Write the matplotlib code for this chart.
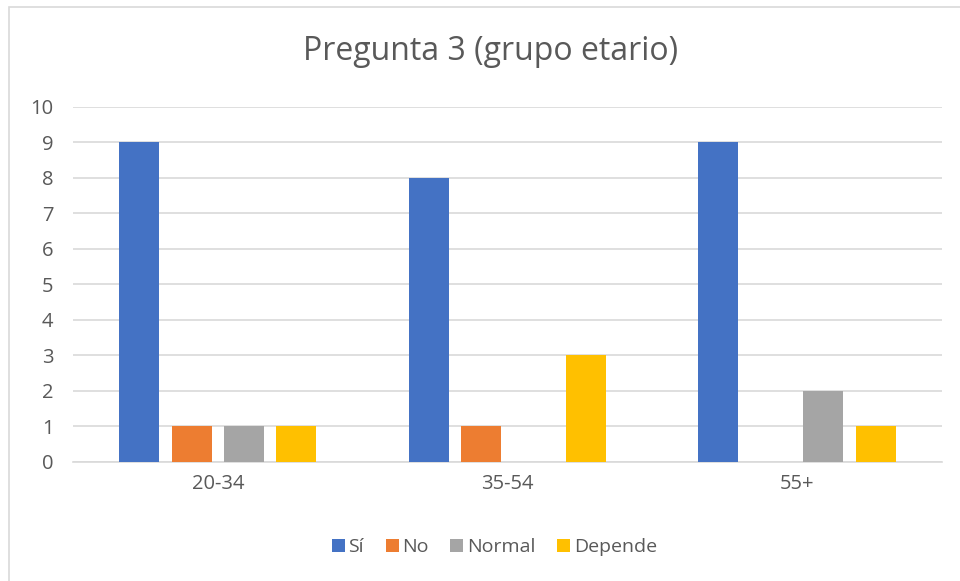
import numpy as np
import matplotlib.pyplot as plt
from matplotlib.patches import Rectangle

# --------------------------
# DATA
# --------------------------
categories = ["20-34", "35-54", "55+"]
series_names = ["Sí", "No", "Normal", "Depende"]
si = [9, 8, 9]
no = [1, 1, 0]
normal = [1, 0, 2]
depende = [1, 3, 1]
y_ticks = list(range(0, 11))

colors = ["#4472C4", "#ED7D31", "#A5A5A5", "#FFC000"]
text_color = "#595959"
grid_color = "#D9D9D9"

plt.rcParams["font.family"] = ["Open Sans", "DejaVu Sans"]

fig = plt.figure(figsize=(9.6, 5.81), dpi=100)
ax = fig.add_axes([0.076, 0.205, 0.905, 0.611])

# outer chart border (cropped screenshot: only top and left visible)
fig.patches.append(Rectangle((9 / 960, -0.1), 1.2, 1 - 7 / 581 + 0.1,
                             transform=fig.transFigure, fill=False,
                             edgecolor=grid_color, linewidth=1.2))

x = np.arange(len(categories))
step = 52.5 / 290
width = 40 / 290
for i, (name, vals) in enumerate(zip(series_names, [si, no, normal, depende])):
    ax.bar(x + (i - 1.5) * step, vals, width, color=colors[i], label=name, zorder=3)

ax.set_xlim(-0.5, len(categories) - 0.5)
ax.set_ylim(0, 10)
ax.set_yticks(y_ticks)
ax.set_xticks(x)
ax.set_xticklabels(categories)
ax.tick_params(axis="both", length=0, colors=text_color, labelsize=14.5)
ax.tick_params(axis="y", pad=14)
ax.tick_params(axis="x", pad=9)
ax.yaxis.grid(True, color=grid_color, linewidth=1.2, zorder=0)
for side in ["top", "right", "left"]:
    ax.spines[side].set_visible(False)
ax.spines["bottom"].set_color(grid_color)
ax.spines["bottom"].set_linewidth(1.2)

fig.text(0.511, 0.912, "Pregunta 3 (grupo etario)", ha="center", va="center",
         fontsize=23, color=text_color)

ax.legend(loc="center", bbox_to_anchor=(0.485, -0.24), ncol=4, frameon=False,
          fontsize=14, labelcolor=text_color, handlelength=0.67, handleheight=0.67,
          handletextpad=0.2, columnspacing=1.1)

fig.savefig("out.png", dpi=100, facecolor="white")
